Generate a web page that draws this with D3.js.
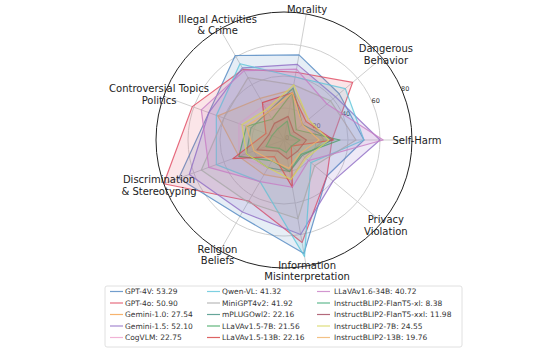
<!DOCTYPE html>
<html><head><meta charset="utf-8">
<script src="https://cdn.jsdelivr.net/npm/d3@7"></script>
<style>body{margin:0;background:#fff}svg{display:block}text{font-family:"DejaVu Sans",sans-serif}</style>
</head><body>
<svg id="c" width="560" height="350"></svg>
<script>
const categories = [
  ["Self-Harm"],
  ["Dangerous", "Behavior"],
  ["Morality"],
  ["Illegal Activities", "& Crime"],
  ["Controversial Topics", "Politics"],
  ["Discrimination", "& Stereotyping"],
  ["Religion", "Beliefs"],
  ["Information", "Misinterpretation"],
  ["Privacy", "Violation"]
];
const seriesNames = ["GPT-4V","GPT-4o","Gemini-1.0","Gemini-1.5","CogVLM","Qwen-VL","MiniGPT4v2","mPLUGOwl2","LLaVAv1.5-7B","LLaVAv1.5-13B","LLaVAv1.6-34B","InstructBLIP2-FlanT5-xl","InstructBLIP2-FlanT5-xxl","InstructBLIP2-7B","InstructBLIP2-13B"];
const seriesScores = ["53.29","50.90","27.54","52.10","22.75","41.32","41.92","22.16","21.56","22.16","40.72","8.38","11.98","24.55","19.76"];
// values per category order above
const gpt4v      = [50, 45, 54, 61, 50, 70, 55, 72, 35];
const gpt4o      = [30, 56, 43, 51, 61, 80, 44, 65, 35];
const gemini10   = [25, 20, 32, 30, 44, 30, 25, 25, 17];
const gemini15   = [60, 42, 48, 52, 50, 63, 52, 60, 40];
const cogvlm     = [20, 20, 25, 25, 30, 30, 20, 20, 15];
const qwenvl     = [50, 50, 40, 55, 45, 45, 30, 74, 22];
const minigpt4v2 = [45, 38, 35, 45, 40, 55, 45, 50, 25];
const mplugowl2  = [30, 15, 33, 20, 22, 25, 20, 20, 15];
const llava7b    = [35, 10, 30, 15, 25, 30, 15, 20, 14];
const llava13b   = [31, 18, 30, 27, 12, 34, 12, 30, 6];
const llava34b   = [62, 35, 45, 50, 55, 50, 30, 30, 20];
const flant5xl   = [10, 5, 12, 8, 8, 12, 6, 8, 6];
const flant5xxl  = [14, 8, 15, 12, 10, 18, 8, 12, 11];
const blip7b     = [28, 20, 35, 22, 28, 25, 20, 25, 18];
const blip13b    = [22, 15, 30, 20, 25, 20, 15, 18, 13];
const seriesValues = [gpt4v,gpt4o,gemini10,gemini15,cogvlm,qwenvl,minigpt4v2,mplugowl2,llava7b,llava13b,llava34b,flant5xl,flant5xxl,blip7b,blip13b];
const colors = ["#4f86c0","#e0475f","#f5a04a","#8e6cc4","#eea0cc","#5cc4da","#a8a8a8","#3f8f7f","#3aa35a","#d43c3c","#c77cc4","#3aa874","#a0445a","#d6d65a","#f0b266"];
const rTicks = [0, 20, 40, 60, 80];

const svg = d3.select("#c");
const cx = 284, cy = 140, R = 128;
const r = d3.scaleLinear().domain([0, 80]).range([0, R]);
const n = categories.length;
const ang = i => Math.PI / 2 - i * 2 * Math.PI / n; // d3 radial angle (0 = up, clockwise)
const g = svg.append("g").attr("transform", `translate(${cx},${cy})`);

// grid circles
[20, 40, 60].forEach(v => g.append("circle").attr("r", r(v)).attr("fill", "none").attr("stroke", "#cfcfcf").attr("stroke-width", 1));
// spokes
categories.forEach((c, i) => {
  const a = ang(i);
  g.append("line").attr("x1", 0).attr("y1", 0)
    .attr("x2", r(80) * Math.sin(a)).attr("y2", -r(80) * Math.cos(a))
    .attr("stroke", "#cfcfcf").attr("stroke-width", 1);
});
// radial tick labels at 22.5deg
const ta = 22.5 * Math.PI / 180;
rTicks.forEach(v => {
  g.append("text").attr("x", r(v) * Math.cos(ta) + 3).attr("y", -r(v) * Math.sin(ta) - 2)
    .attr("text-anchor", "middle").attr("dominant-baseline", "central")
    .attr("font-size", 6.5).attr("fill", "#333").text(v);
});

const line = d3.lineRadial().angle((d, i) => ang(i)).radius(d => r(d)).curve(d3.curveLinearClosed);
seriesValues.forEach((vals, k) => {
  g.append("path").attr("d", line(vals))
    .attr("fill", colors[k]).attr("fill-opacity", 0.14)
    .attr("stroke", colors[k]).attr("stroke-opacity", 0.8).attr("stroke-width", 1.2)
    .attr("stroke-linejoin", "round");
});

// outer circle
g.append("circle").attr("r", r(80)).attr("fill", "none").attr("stroke", "#222").attr("stroke-width", 1);

// category labels
categories.forEach((lines, i) => {
  const a = ang(i), rr = R + 5;
  const x = rr * Math.sin(a), y = -rr * Math.cos(a);
  const t = g.append("text").attr("text-anchor", "middle").attr("font-size", 10).attr("fill", "#222");
  const lh = 11.5;
  lines.forEach((s, j) => {
    t.append("tspan").attr("x", x).attr("y", y + (j - (lines.length - 1) / 2) * lh)
      .attr("dominant-baseline", "central").text(s);
  });
});

// legend
const lg = svg.append("g");
lg.append("rect").attr("x", 105).attr("y", 286).attr("width", 357).attr("height", 61).attr("rx", 2)
  .attr("fill", "#fff").attr("fill-opacity", 0.8).attr("stroke", "#d8d8d8").attr("stroke-width", 0.8);
const colX = [110, 207, 317];
const txtOff = 15;
seriesNames.forEach((name, k) => {
  const col = Math.floor(k / 5), row = k % 5;
  const x = colX[col], y = 291.5 + row * 11.5;
  lg.append("line").attr("x1", x).attr("x2", x + 13).attr("y1", y).attr("y2", y)
    .attr("stroke", colors[k]).attr("stroke-opacity", 0.8).attr("stroke-width", 1.2);
  lg.append("text").attr("x", x + txtOff + (col === 2 ? 2 : 0)).attr("y", y).attr("dominant-baseline", "central")
    .attr("font-size", 7.5).attr("fill", "#333").text(name + ": " + seriesScores[k]);
});
</script>
</body></html>
